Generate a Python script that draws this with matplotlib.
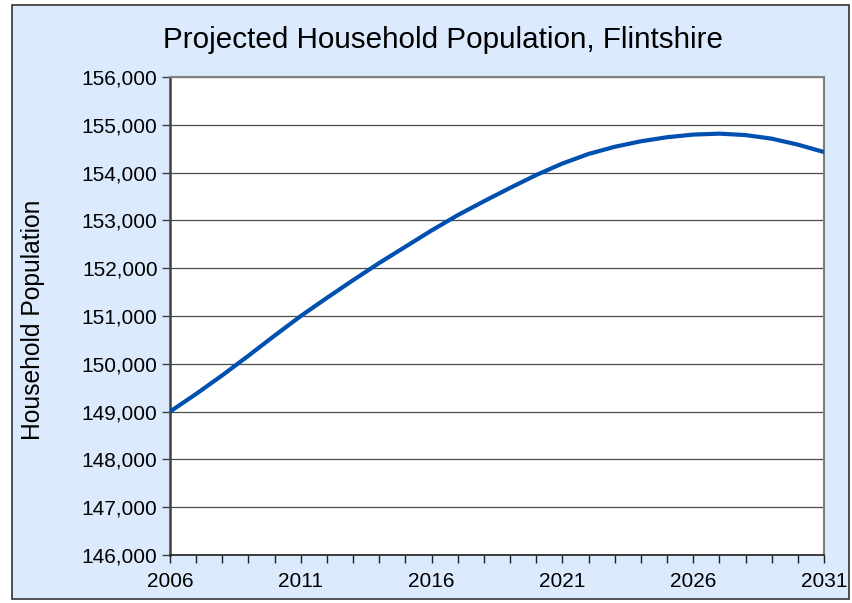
import matplotlib
matplotlib.use("Agg")
import matplotlib.pyplot as plt
from matplotlib.patches import Rectangle
from matplotlib.ticker import FuncFormatter, MultipleLocator

plt.rcParams['font.family'] = ['Liberation Sans', 'DejaVu Sans']

years = list(range(2006, 2032))
population = [149000, 149370, 149760, 150170, 150590, 151000, 151380, 151750,
              152110, 152450, 152790, 153110, 153400, 153680, 153950, 154190,
              154390, 154540, 154655, 154740, 154795, 154815, 154785, 154710,
              154585, 154430]
title = "Projected Household Population, Flintshire"
ylabel = "Household Population"
x_labels = [2006, 2011, 2016, 2021, 2026, 2031]

bg = '#DCEAFD'
fig = plt.figure(figsize=(8.52, 6.03), dpi=100)
fig.patch.set_facecolor('white')
fig.patches.append(Rectangle((12/852, 1-599/603), (849-12)/852, (599-5)/603,
                             transform=fig.transFigure, facecolor=bg,
                             edgecolor='#333333', linewidth=1.2, zorder=-5))

ax = fig.add_axes([170/852, 1-555/603, (824-170)/852, (555-77)/603])
ax.set_zorder(2)
ax.set_facecolor('white')
ax.plot(years, population, color='#0050B0', linewidth=3.0, solid_capstyle='butt', zorder=3)

ax.set_xlim(2006, 2031)
ax.set_ylim(146000, 156000)
ax.yaxis.set_major_locator(MultipleLocator(1000))
ax.yaxis.set_major_formatter(FuncFormatter(lambda v, p: f"{int(v):,}"))
ax.set_xticks(x_labels)
ax.set_xticklabels([str(x) for x in x_labels])
ax.set_xticks(years, minor=True)
ax.grid(axis='y', color='#4a4a4a', linewidth=0.9, zorder=1)

ax.tick_params(axis='y', direction='out', length=6, width=1, color='#404040',
               labelsize=15, pad=3)
ax.tick_params(axis='x', which='both', direction='out', length=6, width=1,
               color='#202020', labelsize=15, pad=6)

for side in ['top', 'right']:
    ax.spines[side].set_color('#808080')
    ax.spines[side].set_linewidth(1.5)
ax.spines['left'].set_color('#404040')
ax.spines['left'].set_linewidth(1.8)
ax.spines['bottom'].set_color('#202020')
ax.spines['bottom'].set_linewidth(1.2)

fig.text(443/852, 1-40/603, title, ha='center', va='center', fontsize=21.3, color='#000000')
fig.text(33/852, 1-320/603, ylabel, ha='center', va='center', rotation=90, fontsize=17.7)

fig.savefig('out.png', dpi=100, facecolor=fig.get_facecolor())
